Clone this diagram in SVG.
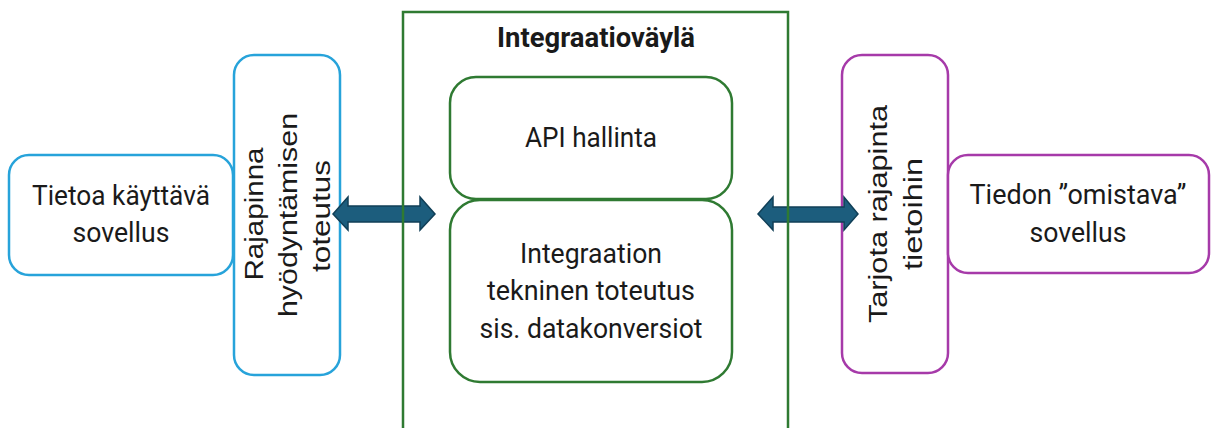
<svg xmlns="http://www.w3.org/2000/svg" width="1211" height="428" viewBox="0 0 1211 428">
<defs>
<style>
.bg{fill:#ffffff}
.blue{fill:#ffffff;stroke:#27a3da;stroke-width:2.5}
.purple{fill:#ffffff;stroke:#a63aa9;stroke-width:2.5}
.green{fill:#ffffff;stroke:#2f7a32;stroke-width:2.5}
.frame{fill:none;stroke:#2f7a32;stroke-width:2.5}
.arrow{fill:#1c5d7d;stroke:#103f57;stroke-width:1.5}
.t{font-family:Roboto,"Liberation Sans",sans-serif;font-size:28px;fill:#1a1a1a;text-anchor:middle}
.tb{font-family:Roboto,"Liberation Sans",sans-serif;font-size:28px;font-weight:bold;fill:#1a1a1a;text-anchor:middle}
.v{font-family:"Liberation Sans",Arial,sans-serif;font-size:25px;fill:#1a1a1a;text-anchor:middle}
</style>
</defs>
<rect class="bg" x="0" y="0" width="1211" height="428"/>

<g id="node-kayttava">
<rect class="blue" x="9" y="155" width="224" height="120" rx="20"/>
<text class="t" x="121" y="205" textLength="178" lengthAdjust="spacingAndGlyphs">Tietoa käyttävä</text>
<text class="t" x="121" y="242" textLength="97" lengthAdjust="spacingAndGlyphs">sovellus</text>
</g>

<g id="node-rajapinna">
<rect class="blue" x="234" y="55" width="106" height="320" rx="20"/>
<text class="v" transform="translate(263,214) rotate(-90)" textLength="133" lengthAdjust="spacingAndGlyphs">Rajapinna</text>
<text class="v" transform="translate(297,215) rotate(-90)" textLength="204" lengthAdjust="spacingAndGlyphs">hyödyntämisen</text>
<text class="v" transform="translate(330,216) rotate(-90)" textLength="112" lengthAdjust="spacingAndGlyphs">toteutus</text>
</g>

<g id="node-tarjota">
<rect class="purple" x="842" y="55" width="106" height="318" rx="20"/>
<text class="v" transform="translate(887,214) rotate(-90)" textLength="218" lengthAdjust="spacingAndGlyphs">Tarjota rajapinta</text>
<text class="v" transform="translate(922,214) rotate(-90)" textLength="112" lengthAdjust="spacingAndGlyphs">tietoihin</text>
</g>

<g id="node-omistava">
<rect class="purple" x="948" y="155" width="261" height="118" rx="20"/>
<text class="t" x="1078" y="204" textLength="217" lengthAdjust="spacingAndGlyphs">Tiedon ”omistava”</text>
<text class="t" x="1078" y="242" textLength="97" lengthAdjust="spacingAndGlyphs">sovellus</text>
</g>

<g id="connectors">
<polygon class="arrow" points="333,214 348,197 348,206 420,206 420,197 435,214 420,230 420,222 348,222 348,230"/>
<polygon class="arrow" points="758,214 773,197 773,207 844,207 844,197 858,214 844,230 844,222 773,222 773,230"/>
</g>

<g id="node-integraatiovayla">
<rect class="frame" x="403" y="12" width="385" height="430"/>
<text class="tb" x="596" y="47" textLength="198" lengthAdjust="spacingAndGlyphs">Integraatioväylä</text>
</g>

<g id="node-api">
<rect class="green" x="450" y="77" width="282" height="122" rx="26"/>
<text class="t" x="591" y="147" textLength="132" lengthAdjust="spacingAndGlyphs">API hallinta</text>
</g>

<g id="node-tekninen">
<rect class="green" x="450" y="200" width="282" height="182" rx="30"/>
<text class="t" x="591" y="263" textLength="142" lengthAdjust="spacingAndGlyphs">Integraation</text>
<text class="t" x="591" y="300" textLength="208" lengthAdjust="spacingAndGlyphs">tekninen toteutus</text>
<text class="t" x="591" y="338" textLength="223" lengthAdjust="spacingAndGlyphs">sis. datakonversiot</text>
</g>
</svg>
